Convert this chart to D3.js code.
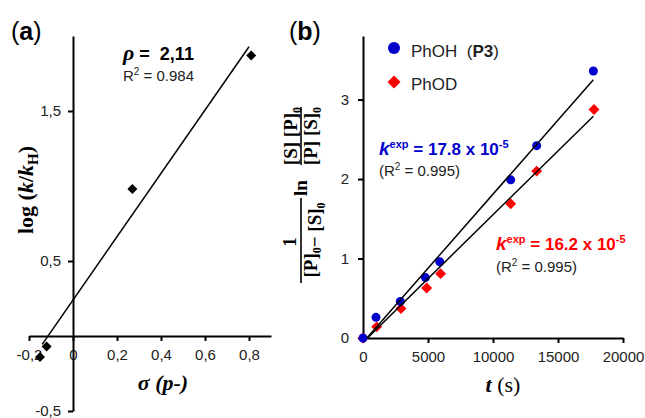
<!DOCTYPE html>
<html><head><meta charset="utf-8">
<script src="https://cdn.jsdelivr.net/npm/d3@7"></script>
<style>
body{margin:0;background:#fff}
svg{display:block}
text{font-family:"Liberation Sans",Arial,sans-serif;white-space:pre}
.serif{font-family:"Liberation Serif","Times New Roman",serif}
</style>
</head><body><svg id="c" width="645" height="418"></svg>
<script>
// ---------- Panel (a): Hammett plot ----------
const sigmaValues = [-0.15, -0.12, 0.27, 0.81];
const logKRatio   = [-0.14, -0.07, 0.98, 1.87];
const hammettRho = 2.11;
const hammettIntercept = 0.24;
const hammettLineX = [-0.14, 0.80];
const aXTicks = [-0.2, 0, 0.2, 0.4, 0.6, 0.8];
const aXTickLabels = ["-0,2", "0", "0,2", "0,4", "0,6", "0,8"];
const aYTicks = [-0.5, 0.5, 1.5];
const aYTickLabels = ["-0,5", "0,5", "1,5"];

// ---------- Panel (b): kinetics ----------
const timesOH = [0, 1000, 2870, 4800, 5900, 11360, 13360, 17720];
const valuesOH = [0, 0.26, 0.46, 0.76, 0.96, 1.99, 2.42, 3.36];
const timesOD = [0, 1050, 2920, 4900, 5970, 11360, 13360, 17770];
const valuesOD = [0, 0.14, 0.37, 0.63, 0.81, 1.69, 2.10, 2.875];
const seriesNames = ["PhOH", "PhOD"];
const fitSlopes = [1.866e-4, 1.607e-4];
const fitStart = [300, 350];
const fitEnd = [17720, 17720];
const bXTicks = [0, 5000, 10000, 15000, 20000];
const bYTicks = [0, 1, 2, 3];

const blue = "#0000CC", red = "#FF0000";
const svg = d3.select("#c");

// ===== Panel a =====
const ax = d3.scaleLinear().domain([-0.2, 0.9]).range([29, 271]);
const ay = d3.scaleLinear().domain([-0.5, 2.0]).range([411, 36]);

const gaX = svg.append("g").attr("transform", `translate(0,${ay(0)})`)
  .call(d3.axisBottom(ax).tickValues(aXTicks).tickFormat((d,i)=>aXTickLabels[i])
    .tickSize(5).tickSizeOuter(0).tickPadding(8));
const gaY = svg.append("g").attr("transform", `translate(${ax(0)},0)`)
  .call(d3.axisLeft(ay).tickValues(aYTicks).tickFormat((d,i)=>aYTickLabels[i])
    .tickSize(5).tickSizeOuter(0).tickPadding(7));
[gaX, gaY].forEach(g => {
  g.select(".domain").attr("stroke", "#000").attr("stroke-width", 2);
  g.selectAll(".tick line").attr("stroke", "#000").attr("stroke-width", 2);
  g.selectAll(".tick text").attr("font-size", 15).attr("fill", "#222")
    .attr("font-family", "Liberation Sans, Arial, sans-serif");
});

// data markers (diamonds)
svg.append("g").selectAll("path").data(sigmaValues).join("path")
  .attr("d", d3.symbol().type(d3.symbolSquare).size(50)())
  .attr("transform", (d,i)=>`translate(${ax(d)},${ay(logKRatio[i])}) rotate(45)`)
  .attr("fill", "#000");
// regression line
svg.append("line")
  .attr("x1", ax(hammettLineX[0])).attr("y1", ay(hammettIntercept + hammettRho*hammettLineX[0]))
  .attr("x2", ax(hammettLineX[1])).attr("y2", ay(hammettIntercept + hammettRho*hammettLineX[1]))
  .attr("stroke", "#000").attr("stroke-width", 1.5);

// annotations
const rhoT = svg.append("text").attr("x", 123).attr("y", 60).attr("font-size", 18).attr("font-weight", "bold");
rhoT.append("tspan").attr("font-style", "italic").attr("font-family","Liberation Serif, serif").attr("font-size", 22).text("ρ");
rhoT.append("tspan").text(" =  2,11");
const r2a = svg.append("text").attr("x", 123).attr("y", 81).attr("font-size", 15).attr("fill", "#222");
r2a.append("tspan").text("R");
r2a.append("tspan").attr("font-size", 10).attr("dy", -6).text("2");
r2a.append("tspan").attr("dy", 6).text(" = 0.984");

// (a) label
const la = svg.append("text").attr("x", 11).attr("y", 40).attr("font-size", 25);
la.append("tspan").text("(");
la.append("tspan").attr("font-weight", "bold").text("a");
la.append("tspan").text(")");

// y label a
const yla = svg.append("text").attr("class","serif").attr("font-weight","bold").attr("font-size", 22)
  .attr("text-anchor","middle").attr("transform","translate(33,190) rotate(-90)");
yla.append("tspan").text("log (");
yla.append("tspan").attr("font-style","italic").text("k");
yla.append("tspan").text("/");
yla.append("tspan").attr("font-style","italic").text("k");
yla.append("tspan").attr("font-size", 15).attr("dy", 5).text("H");
yla.append("tspan").attr("dy", -5).text(")");

// x label a
const xla = svg.append("text").attr("class","serif").attr("font-weight","bold").attr("font-style","italic")
  .attr("font-size", 22).attr("text-anchor","middle").attr("x", 163).attr("y", 390);
xla.append("tspan").text("σ (");
xla.append("tspan").text("p");
xla.append("tspan").text("-)");

// ===== Panel b =====
const bx = d3.scaleLinear().domain([0, 20000]).range([363, 623]);
const by = d3.scaleLinear().domain([0, 3.8]).range([338, 36]);

const gbX = svg.append("g").attr("transform", `translate(0,${by(0)})`)
  .call(d3.axisBottom(bx).tickValues(bXTicks).tickFormat(d3.format("d"))
    .tickSize(5).tickSizeOuter(0).tickPadding(8));
const gbY = svg.append("g").attr("transform", `translate(${bx(0)},0)`)
  .call(d3.axisLeft(by).tickValues(bYTicks).tickFormat(d3.format("d"))
    .tickSize(5).tickSizeOuter(0).tickPadding(9));
[gbX, gbY].forEach(g => {
  g.select(".domain").attr("stroke", "#000").attr("stroke-width", 2);
  g.selectAll(".tick line").attr("stroke", "#000").attr("stroke-width", 2);
  g.selectAll(".tick text").attr("font-size", 15).attr("fill", "#222")
    .attr("font-family", "Liberation Sans, Arial, sans-serif");
});

const diamondPath = d3.symbol().type(d3.symbolSquare).size(60)();
// PhOD markers (drawn first)
svg.append("g").selectAll("path").data(valuesOD).join("path")
  .attr("d", diamondPath)
  .attr("transform", (d,i)=>`translate(${bx(timesOD[i])},${by(d)}) rotate(45)`)
  .attr("fill", red);
// PhOH markers
svg.append("g").selectAll("circle").data(valuesOH).join("circle")
  .attr("cx", (d,i)=>bx(timesOH[i])).attr("cy", d=>by(d)).attr("r", 4.5)
  .attr("fill", blue);
// fit lines
svg.append("g").selectAll("line").data(fitSlopes).join("line")
  .attr("x1", (d,i)=>bx(fitStart[i])).attr("y1", by(0))
  .attr("x2", (d,i)=>bx(fitEnd[i])).attr("y2", (d,i)=>by(d*(fitEnd[i]-fitStart[i])))
  .attr("stroke", "#000").attr("stroke-width", 1.5);

// legend
svg.append("circle").attr("cx", 394).attr("cy", 48).attr("r", 6).attr("fill", blue);
svg.append("path").attr("d", d3.symbol().type(d3.symbolSquare).size(85)())
  .attr("transform", "translate(394,82) rotate(45)").attr("fill", red);
const l1 = svg.append("text").attr("x", 411).attr("y", 57).attr("font-size", 17).attr("fill", "#222");
l1.append("tspan").text(seriesNames[0] + "  (");
l1.append("tspan").attr("font-weight","bold").text("P3");
l1.append("tspan").text(")");
svg.append("text").attr("x", 411).attr("y", 90).attr("font-size", 17).attr("fill", "#222").text(seriesNames[1]);

// k annotations
function kText(x, y, color, val) {
  const t = svg.append("text").attr("x", x).attr("y", y).attr("font-size", 17)
    .attr("font-weight","bold").attr("fill", color);
  t.append("tspan").attr("font-style","italic").attr("font-size", 19).text("k");
  t.append("tspan").attr("font-size", 11).attr("dy", -7).text("exp");
  t.append("tspan").attr("dy", 7).text(` = ${val} x 10`);
  t.append("tspan").attr("font-size", 11).attr("dy", -7).text("-5");
}
function r2Text(x, y) {
  const t = svg.append("text").attr("x", x).attr("y", y).attr("font-size", 15).attr("fill", "#222");
  t.append("tspan").text("(R");
  t.append("tspan").attr("font-size", 10).attr("dy", -6).text("2");
  t.append("tspan").attr("dy", 6).text(" = 0.995)");
}
kText(379, 155, blue, "17.8");
r2Text(379, 176);
kText(496, 250, red, "16.2");
r2Text(496, 272);

// (b) label
const lb = svg.append("text").attr("x", 289).attr("y", 40).attr("font-size", 25);
lb.append("tspan").text("(");
lb.append("tspan").attr("font-weight", "bold").text("b");
lb.append("tspan").text(")");

// x label b
const xlb = svg.append("text").attr("class","serif").attr("font-size", 22).attr("text-anchor","middle")
  .attr("x", 503).attr("y", 392);
xlb.append("tspan").attr("font-weight","bold").attr("font-style","italic").text("t");
xlb.append("tspan").text(" (s)");

// y label b (rotated fraction expression)
const ylb = svg.append("g").attr("transform", "translate(301,200) rotate(-90)")
  .attr("font-weight","bold");
function subText(g, x, y, parts, fs) {
  const t = g.append("text").attr("class","serif").attr("x", x).attr("y", y)
    .attr("font-size", fs || 19).attr("text-anchor","middle").attr("font-weight","bold");
  parts.forEach(p => {
    if (p.sub) { t.append("tspan").attr("font-size", 12).attr("dy", 4).text(p.s); t.append("tspan").attr("dy", -4).text(""); }
    else t.append("tspan").text(p.s);
  });
  return t;
}
// top fraction
ylb.append("line").attr("x1", 35).attr("x2", 93).attr("y1", 0).attr("y2", 0).attr("stroke", "#000").attr("stroke-width", 1.6);
subText(ylb, 64, -4, [{s:"[S] [P]"},{s:"0",sub:true}]);
subText(ylb, 64, 16, [{s:"[P] [S]"},{s:"0",sub:true}]);
// ln
subText(ylb, 12, 6, [{s:"ln"}]);
// bottom fraction
ylb.append("line").attr("x1", -83).attr("x2", 2).attr("y1", 0).attr("y2", 0).attr("stroke", "#000").attr("stroke-width", 1.6);
subText(ylb, -42, -5, [{s:"1"}]);
subText(ylb, -40, 16, [{s:"[P]"},{s:"0",sub:true},{s:"− [S]"},{s:"0",sub:true}]);
</script></body></html>
